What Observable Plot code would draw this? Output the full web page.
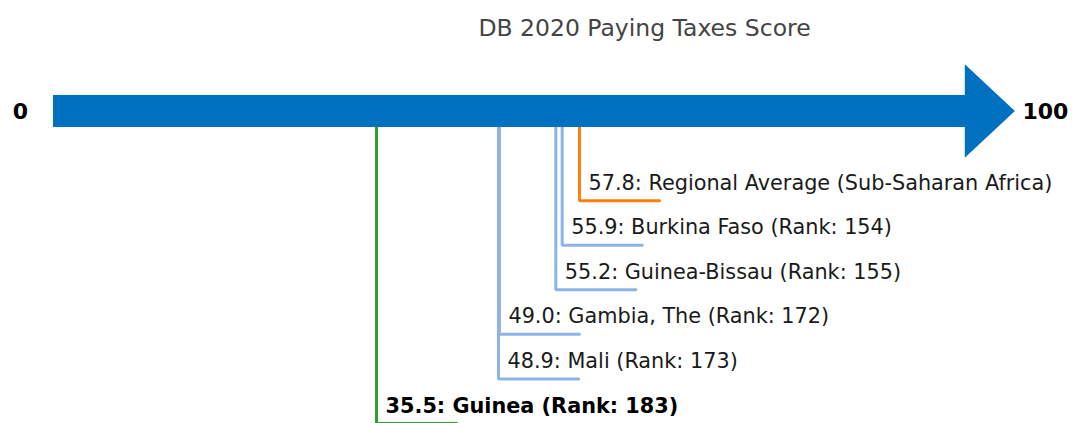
<!DOCTYPE html>
<html>
<head>
<meta charset="utf-8">
<script src="https://cdn.jsdelivr.net/npm/d3@7"></script>
<script src="https://cdn.jsdelivr.net/npm/@observablehq/plot@0.6"></script>
<style>
  html, body { margin: 0; padding: 0; background: #fff; }
  svg { display: block; }
</style>
</head>
<body>
<div id="chart"></div>
<script>
const title = "DB 2020 Paying Taxes Score";
const axisEnds = [0, 100];
const names = ["Regional Average (Sub-Saharan Africa)", "Burkina Faso", "Guinea-Bissau", "Gambia, The", "Mali", "Guinea"];
const scores = [57.8, 55.9, 55.2, 49.0, 48.9, 35.5];
const ranks = [null, 154, 155, 172, 173, 183];
const kinds = ["region", "peer", "peer", "peer", "peer", "focus"];
const levels = [1, 2, 3, 4, 5, 6];

const colors = {region: "#ff7f0e", peer: "#8db4e8", focus: "#2ca02c"};
const barLevel = -1;
const tail = 8.8;

const rows = names.map((n, i) => ({
  name: n, score: scores[i], rank: ranks[i], kind: kinds[i], level: levels[i],
  label: `${scores[i].toFixed(1)}: ${n}` + (ranks[i] != null ? ` (Rank: ${ranks[i]})` : "")
}));

const paths = rows.flatMap(r => [
  {name: r.name, kind: r.kind, x: r.score, y: barLevel},
  {name: r.name, kind: r.kind, x: r.score, y: r.level},
  {name: r.name, kind: r.kind, x: r.score + tail, y: r.level}
]);

const shaftHalf = 0.36, headHalf = 1.05, headLen = 5.5;
const head = [
  {x: axisEnds[1] + 0.2, lo: barLevel - headHalf, hi: barLevel + headHalf},
  {x: axisEnds[1] + 0.2 + headLen, lo: barLevel, hi: barLevel}
];

const labelOpts = {x: "score", y: "level", text: "label", dx: 9, dy: -11, lineAnchor: "bottom", textAnchor: "start", fontSize: 20.8, fill: "#1a1a1a"};

const chart = Plot.plot({
  width: 1072,
  height: 423,
  marginLeft: 53,
  marginRight: 109,
  marginTop: 0,
  marginBottom: 0,
  style: {fontFamily: "'DejaVu Sans', sans-serif", background: "#fff"},
  x: {domain: axisEnds, axis: null},
  y: {domain: [-1, 6], range: [111, 423], axis: null},
  marks: [
    Plot.line(paths, {x: "x", y: "y", z: "name", stroke: d => colors[d.kind], strokeWidth: 3, strokeLinejoin: "miter", curve: "linear"}),
    Plot.rect([{}], {x1: axisEnds[0], x2: axisEnds[1] + 0.3, y1: barLevel - shaftHalf, y2: barLevel + shaftHalf, fill: "#0070c0"}),
    Plot.area(head, {x1: "x", y1: "lo", y2: "hi", fill: "#0070c0", curve: "linear"}),
    Plot.text(rows.filter(d => d.kind !== "focus"), {...labelOpts, fontWeight: "normal"}),
    Plot.text(rows.filter(d => d.kind === "focus"), {...labelOpts, fontWeight: "bold", fill: "#000"}),
    Plot.text([axisEnds[0]], {x: d => d, y: barLevel, text: d => String(d), dx: -33, textAnchor: "middle", lineAnchor: "middle", fontSize: 22, fontWeight: "bold", fill: "#000"}),
    Plot.text([axisEnds[1]], {x: d => d, y: barLevel, text: d => String(d), dx: 59, textAnchor: "start", lineAnchor: "middle", fontSize: 22, fontWeight: "bold", fill: "#000"}),
    Plot.text([title], {frameAnchor: "top", text: d => d, dx: 136, dy: 28, fontSize: 23.5, fill: "#444", lineAnchor: "middle"})
  ]
});
document.getElementById("chart").appendChild(chart);
</script>
</body>
</html>
